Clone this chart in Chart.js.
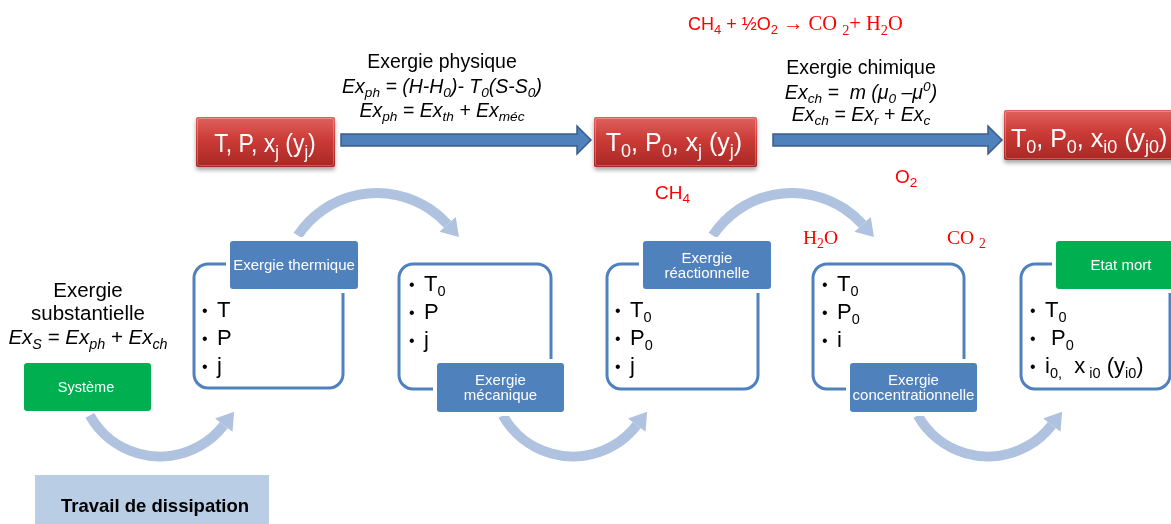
<!DOCTYPE html>
<html>
<head>
<meta charset="utf-8">
<script src="https://cdn.jsdelivr.net/npm/chart.js@4/dist/chart.umd.min.js"></script>
<style>
  html, body { margin: 0; padding: 0; background: #fff; }
  canvas { display: block; }
</style>
</head>
<body>
<canvas id="diagram" width="1171" height="524"></canvas>
<script>
// texts of the diagram (markup: _{..} subscript, ^{..} superscript)
const reactionSans = 'CH_{4} + ½O_{2} ';
const reactionSerif = '→ CO _{2}+ H_{2}O';
const stateLabels = ['T, P, x_{j} (y_{j})', 'T_{0}, P_{0}, x_{j} (y_{j})', 'T_{0}, P_{0}, x_{i0} (y_{j0})'];
const physLines = ['Exergie physique', 'Ex_{ph} = (H-H_{0})- T_{0}(S-S_{0})', 'Ex_{ph} = Ex_{th} + Ex_{méc}'];
const chemLines = ['Exergie chimique', 'Ex_{ch} =  m (μ_{0} –μ^{0})', 'Ex_{ch} = Ex_{r} + Ex_{c}'];
const substLines = ['Exergie', 'substantielle', 'Ex_{S} = Ex_{ph} + Ex_{ch}'];
const stageHeaders = [['Exergie thermique'], ['Exergie', 'mécanique'], ['Exergie', 'réactionnelle'], ['Exergie', 'concentrationnelle'], ['Etat mort']];
const stageBullets = [
  ['T', 'P', 'j'],
  ['T_{0}', 'P', 'j'],
  ['T_{0}', 'P_{0}', 'j'],
  ['T_{0}', 'P_{0}', 'i'],
  ['T_{0}', ' P_{0}', 'i_{0,}  x_{ i0} (y_{i0})']
];
const speciesSans = ['CH_{4}', 'O_{2}'];
const speciesSerif = ['H_{2}O', 'CO _{2}'];
const systemLabel = 'Système';
const dissipationLabel = 'Travail de dissipation';

// layout (pixel space of the 1171x524 picture)
const W = 1171, H = 524;
const stateBoxes = [[196, 117, 139, 50, 152], [594, 117, 163, 50, 151], [1004, 110, 190, 50, 147]];
const stateTextX = [265, 674, 1011];
const straightArrows = [[341, 591, 140], [773, 1002, 140]];
const frames = [[194, 264, 149, 124], [399, 264, 152, 125], [607, 264, 151, 125], [813, 264, 151, 125], [1021, 264, 149, 125]];
const headers = [[230, 241, 128, 48, 'top'], [437, 363, 127, 49, 'bottom'], [643, 241, 128, 48, 'top'], [850, 363, 127, 49, 'bottom'], [1056, 241, 130, 48, 'top']];
const bulletX = [[205, 217], [412, 424], [618, 630], [825, 837], [1033, 1045]];
const bulletBase = [[317, 345, 373], [291, 319, 347], [317, 345, 373], [291, 319, 347], [317, 345, 373]];
const bottomArcs = [160, 573, 988];
const topArcs = [377, 792];

const BLUE = '#4F81BD', ARC = '#AFC2DF', GREEN = '#00B050', RED = '#FF0000';

function parseRich(str) {
  const out = [];
  const re = /_\{([^}]*)\}|\^\{([^}]*)\}|([^_^]+)/g;
  let m;
  while ((m = re.exec(str))) {
    if (m[1] !== undefined) out.push({ t: m[1], k: 'sub' });
    else if (m[2] !== undefined) out.push({ t: m[2], k: 'sup' });
    else out.push({ t: m[3], k: '' });
  }
  return out;
}

function drawRich(ctx, str, x, y, o) {
  const parts = parseRich(str);
  const fam = o.family || '"Liberation Sans"';
  const font = sz => (o.italic ? 'italic ' : '') + (o.bold ? 'bold ' : '') + sz + 'px ' + fam;
  const sx = o.sx || 1;
  let w = 0;
  parts.forEach(p => {
    p.sz = p.k ? o.size * (o.subScale || 0.66) : o.size;
    ctx.font = font(p.sz);
    p.w = ctx.measureText(p.t).width * sx;
    w += p.w;
  });
  let cx = o.align === 'left' ? x : x - w / 2;
  ctx.save();
  ctx.fillStyle = o.color || '#000';
  ctx.textAlign = 'left';
  ctx.textBaseline = 'alphabetic';
  parts.forEach(p => {
    ctx.font = font(p.sz);
    let dy = 0;
    if (p.k === 'sub') dy = o.size * 0.22;
    if (p.k === 'sup') dy = -o.size * 0.4;
    ctx.save();
    ctx.translate(cx, y + dy);
    ctx.scale(sx, 1);
    ctx.fillText(p.t, 0, 0);
    ctx.restore();
    cx += p.w;
  });
  ctx.restore();
  return w;
}

function roundRect(ctx, x, y, w, h, r) {
  ctx.beginPath();
  ctx.moveTo(x + r, y);
  ctx.arcTo(x + w, y, x + w, y + h, r);
  ctx.arcTo(x + w, y + h, x, y + h, r);
  ctx.arcTo(x, y + h, x, y, r);
  ctx.arcTo(x, y, x + w, y, r);
  ctx.closePath();
}

function curvedArrow(ctx, cx, cy, r, a0, a1, ccw) {
  ctx.save();
  ctx.strokeStyle = ARC;
  ctx.fillStyle = ARC;
  ctx.lineWidth = 10;
  ctx.beginPath();
  ctx.arc(cx, cy, r, a0, a1, ccw);
  ctx.stroke();
  const nx = Math.cos(a1), ny = Math.sin(a1);
  const tx = ccw ? ny : -ny, ty = ccw ? -nx : nx;
  const bx = cx + r * nx, by = cy + r * ny;
  ctx.beginPath();
  ctx.moveTo(bx + nx * 11, by + ny * 11);
  ctx.lineTo(bx - nx * 11, by - ny * 11);
  ctx.lineTo(bx + tx * 17, by + ty * 17);
  ctx.closePath();
  ctx.fill();
  ctx.restore();
}

const diagramPlugin = {
  id: 'diagram',
  afterDraw(chart) {
    const ctx = chart.ctx;
    const X = v => chart.scales.x.getPixelForValue(v);
    const Y = v => chart.scales.y.getPixelForValue(v);
    const d2r = Math.PI / 180;

    // curved arrows between stages
    bottomArcs.forEach(c => curvedArrow(ctx, X(c), Y(376), 80.5, 150.7 * d2r, 37.6 * d2r, true));
    topArcs.forEach(c => curvedArrow(ctx, X(c), Y(288), 95, -146.5 * d2r, -42 * d2r, false));

    // reaction equation
    const w0 = drawRich(ctx, reactionSans, X(688), Y(30), { size: 18, color: RED, align: 'left', subScale: 0.72 });
    drawRich(ctx, reactionSerif, X(688) + w0, Y(30), { size: 20.5, color: RED, align: 'left', family: '"Liberation Serif"', subScale: 0.7 });

    // formulas above the straight arrows
    const physBase = [68, 93, 117], chemBase = [74, 99, 121];
    physLines.forEach((t, i) => drawRich(ctx, t, X(442), Y(physBase[i]), { size: 19.5, italic: i > 0, subScale: 0.7 }));
    chemLines.forEach((t, i) => drawRich(ctx, t, X(861), Y(chemBase[i]), { size: 19.5, italic: i > 0, subScale: 0.7 }));

    // straight blue arrows
    straightArrows.forEach(([x0, x1, yc]) => {
      const hb = x1 - 14;
      ctx.save();
      ctx.beginPath();
      ctx.moveTo(X(x0), Y(yc - 6));
      ctx.lineTo(X(hb), Y(yc - 6));
      ctx.lineTo(X(hb), Y(yc - 14));
      ctx.lineTo(X(x1), Y(yc));
      ctx.lineTo(X(hb), Y(yc + 14));
      ctx.lineTo(X(hb), Y(yc + 6));
      ctx.lineTo(X(x0), Y(yc + 6));
      ctx.closePath();
      ctx.fillStyle = BLUE;
      ctx.fill();
      ctx.strokeStyle = '#385D8A';
      ctx.lineWidth = 1.5;
      ctx.stroke();
      ctx.restore();
    });

    // red state boxes
    stateBoxes.forEach(([x, y, w, h, base], i) => {
      ctx.save();
      const g = ctx.createLinearGradient(0, Y(y), 0, Y(y + h));
      g.addColorStop(0, '#E0625E');
      g.addColorStop(0.45, '#CB3B37');
      g.addColorStop(1, '#A82824');
      ctx.shadowColor = 'rgba(0,0,0,0.35)';
      ctx.shadowBlur = 4;
      ctx.shadowOffsetY = 3;
      roundRect(ctx, X(x), Y(y), w, h, 2);
      ctx.fillStyle = g;
      ctx.fill();
      ctx.shadowColor = 'transparent';
      ctx.strokeStyle = 'rgba(255,255,255,0.25)';
      ctx.lineWidth = 1;
      roundRect(ctx, X(x) + 1.5, Y(y) + 1.5, w - 3, h - 3, 2);
      ctx.stroke();
      ctx.restore();
      drawRich(ctx, stateLabels[i], X(stateTextX[i]), Y(base), {
        size: 25, color: '#fff', align: i < 2 ? 'center' : 'left', sx: i === 0 ? 0.92 : 1, subScale: 0.72
      });
    });

    // species labels
    drawRich(ctx, speciesSans[0], X(655), Y(199), { size: 19, color: RED, align: 'left', subScale: 0.72 });
    drawRich(ctx, speciesSans[1], X(895), Y(183), { size: 19, color: RED, align: 'left', subScale: 0.72 });
    drawRich(ctx, speciesSerif[0], X(803), Y(244), { size: 19.5, color: RED, align: 'left', family: '"Liberation Serif"', subScale: 0.7 });
    drawRich(ctx, speciesSerif[1], X(947), Y(244), { size: 19.5, color: RED, align: 'left', family: '"Liberation Serif"', subScale: 0.7 });

    // substantial exergy
    const substBase = [297, 320, 344];
    substLines.forEach((t, i) => drawRich(ctx, t, X(88), Y(substBase[i]), { size: 20.5, italic: i === 2, subScale: 0.7 }));

    // system box
    roundRect(ctx, X(24), Y(363), 127, 48, 3);
    ctx.fillStyle = GREEN;
    ctx.fill();
    drawRich(ctx, systemLabel, X(86), Y(392), { size: 14.5, color: '#fff' });

    // stage frames
    frames.forEach(([x, y, w, h]) => {
      ctx.save();
      roundRect(ctx, X(x), Y(y), w, h, 14);
      ctx.strokeStyle = BLUE;
      ctx.lineWidth = 3;
      ctx.stroke();
      ctx.restore();
    });

    // stage headers
    headers.forEach(([x, y, w, h], i) => {
      ctx.save();
      roundRect(ctx, X(x), Y(y), w, h, 3);
      ctx.strokeStyle = '#fff';
      ctx.lineWidth = 8;
      ctx.stroke();
      ctx.fillStyle = i === 4 ? GREEN : BLUE;
      ctx.fill();
      ctx.restore();
      const lines = stageHeaders[i];
      const cx = i === 4 ? 1121 : x + w / 2;
      if (lines.length === 1) {
        drawRich(ctx, lines[0], X(cx), Y(y + 29), { size: 15, color: '#fff' });
      } else {
        drawRich(ctx, lines[0], X(cx), Y(y + 22), { size: 15, color: '#fff' });
        drawRich(ctx, lines[1], X(cx), Y(y + 37), { size: 15, color: '#fff' });
      }
    });

    // bullets
    stageBullets.forEach((items, i) => {
      items.forEach((t, j) => {
        const yb = Y(bulletBase[i][j]);
        drawRich(ctx, '•', X(bulletX[i][0]) - 3, yb - 1, { size: 16, align: 'left' });
        drawRich(ctx, t, X(bulletX[i][1]), yb, { size: 22, align: 'left', subScale: 0.66 });
      });
    });

    // dissipation box
    ctx.fillStyle = '#B9CDE5';
    ctx.fillRect(X(35), Y(475), 234, 60);
    drawRich(ctx, dissipationLabel, X(155), Y(512), { size: 18.5, bold: true });
  }
};

new Chart(document.getElementById('diagram'), {
  type: 'scatter',
  data: { datasets: [{ data: [], pointRadius: 0 }] },
  options: {
    responsive: false,
    animation: false,
    devicePixelRatio: 1,
    layout: { padding: 0 },
    plugins: { legend: { display: false }, tooltip: { enabled: false } },
    scales: {
      x: { display: false, min: 0, max: W },
      y: { display: false, min: 0, max: H, reverse: true }
    }
  },
  plugins: [diagramPlugin]
});
</script>
</body>
</html>
